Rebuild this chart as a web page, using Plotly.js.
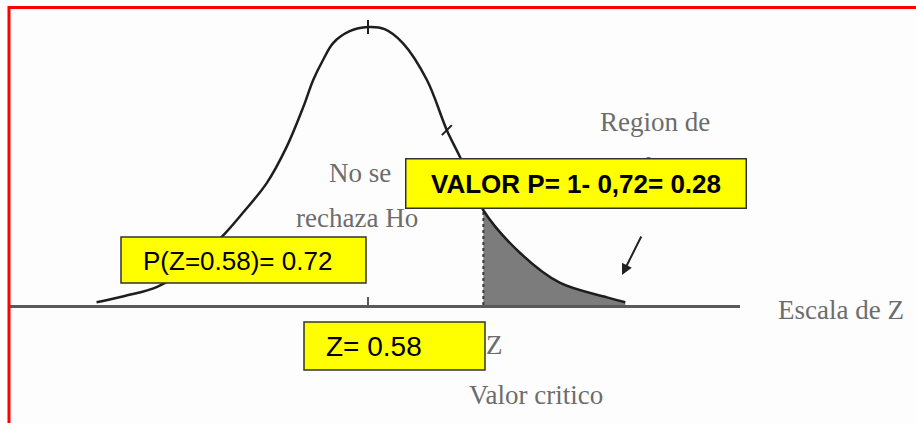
<!DOCTYPE html>
<html>
<head>
<meta charset="utf-8">
<script src="https://cdn.plot.ly/plotly-3.0.1.min.js"></script>
<style>html,body{margin:0;padding:0;background:#fdfdfd;}#chart{width:916px;height:423px;}</style>
</head>
<body>
<div id="chart"></div>
<script>
// ---- data ----
const zValues = [-3.27,-2.93,-2.54,-2.14,-1.76,-1.51,-1.22,-0.98,-0.78,-0.66,-0.54,-0.42,-0.22,0,0.20,0.42,0.71,0.95,1.11,1.39,1.83,2.31,2.88,3.10];
const density = [0.004,0.013,0.026,0.056,0.098,0.132,0.175,0.227,0.284,0.323,0.352,0.376,0.393,0.399,0.396,0.376,0.323,0.251,0.212,0.136,0.075,0.032,0.011,0.004];
const critZ = 1.39;
const tickMarksZ = [0, 0.95];
const labelValorP = "VALOR P= 1- 0,72= 0.28";
const labelProb = "P(Z=0.58)= 0.72";
const labelZ = "Z= 0.58";
const serifLabels = ["No se", "rechaza Ho", "Region de", "rechazo", "Escala de Z", "Z", "Valor critico"];

// ---- helpers ----
const W = 916, H = 423;
const px = x => x / W;
const py = y => 1 - y / H;
const critIdx = zValues.indexOf(critZ);
const tailZ = zValues.slice(critIdx);
const tailD = density.slice(critIdx);
const tickIdx = tickMarksZ.map(z => zValues.indexOf(z));

const traces = [
  { x: tailZ, y: tailD, mode: 'lines', fill: 'tozeroy', fillcolor: '#7c7c7c',
    line: { width: 0, shape: 'spline', smoothing: 1 }, hoverinfo: 'skip' },
  { x: [critZ, critZ], y: [0, density[critIdx]], mode: 'lines',
    line: { color: '#3a3a3a', width: 2, dash: 'dot' }, hoverinfo: 'skip' },
  { x: zValues, y: density, mode: 'lines',
    line: { color: '#1e1e1e', width: 2.5, shape: 'spline', smoothing: 1 }, hoverinfo: 'skip' },
  { x: tickIdx.map(i => zValues[i]), y: tickIdx.map(i => density[i]), mode: 'markers',
    marker: { symbol: ['line-ns', 'line-ne'], size: 10, line: { width: 2, color: '#1e1e1e' } }, hoverinfo: 'skip' }
];

const serif = { family: 'Liberation Serif, Times New Roman, serif', size: 27, color: '#6c6c6c' };
const ann = (text, x, y, xanchor, extra) => Object.assign({
  text, xref: 'paper', yref: 'paper', x: px(x), y: py(y), xanchor, yanchor: 'middle',
  showarrow: false, font: serif
}, extra || {});

const annotations = [
  ann(serifLabels[0], 360, 173, 'center'),
  ann(serifLabels[1], 357, 218, 'center'),
  ann(serifLabels[2], 655, 122, 'center'),
  ann(serifLabels[3], 655, 167, 'center'),
  ann(serifLabels[4], 776, 310, 'left'),
  ann(serifLabels[5], 484, 345, 'left'),
  ann(serifLabels[6], 467, 395, 'left'),
  { text: '<b>' + labelValorP + '</b>', xref: 'paper', yref: 'paper', x: px(405), y: py(158),
    xanchor: 'left', yanchor: 'top', showarrow: false, width: 339, height: 48, align: 'center', valign: 'middle',
    bgcolor: '#ffff00', bordercolor: '#333333', borderwidth: 1.5, borderpad: 0,
    font: { family: 'Liberation Sans, Arial, sans-serif', size: 26, color: '#000' } },
  ann(labelProb, 141, 261, 'left', { font: { family: 'Liberation Sans, Arial, sans-serif', size: 26, color: '#000' } }),
  ann(labelZ, 324, 346, 'left', { font: { family: 'Liberation Sans, Arial, sans-serif', size: 28, color: '#000' } }),
  { text: '', xref: 'x', yref: 'y', x: 3.06, y: 0.043, ax: 20, ay: -40, showarrow: true,
    arrowhead: 2, arrowsize: 1.1, arrowwidth: 2, arrowcolor: '#222' }
];

const shapes = [
  { type: 'rect', xref: 'paper', yref: 'paper', x0: px(121), x1: px(366), y0: py(237), y1: py(283),
    fillcolor: '#ffff00', line: { color: '#333333', width: 1.5 }, layer: 'above' },
  { type: 'rect', xref: 'paper', yref: 'paper', x0: px(304), x1: px(485), y0: py(322), y1: py(370),
    fillcolor: '#ffff00', line: { color: '#333333', width: 1.5 }, layer: 'above' },
  { type: 'rect', xref: 'paper', yref: 'paper', x0: px(9), x1: px(930), y0: py(7.5), y1: py(440),
    fillcolor: 'rgba(0,0,0,0)', line: { color: '#ff0000', width: 3 }, layer: 'above' }
];

const layout = {
  width: W, height: H, margin: { l: 0, r: 0, t: 0, b: 0 },
  paper_bgcolor: '#fdfdfd', plot_bgcolor: 'rgba(0,0,0,0)', showlegend: false,
  xaxis: { domain: [px(10), px(740)], range: [-4.313, 4.482], showline: true, linecolor: '#5a5a5a', linewidth: 3,
    ticks: 'inside', tickvals: [0], ticklen: 8, tickwidth: 2, tickcolor: '#5a5a5a', showticklabels: false,
    showgrid: false, zeroline: false, fixedrange: true },
  yaxis: { domain: [118 / H, 1], range: [0, 0.4378], visible: false, fixedrange: true },
  annotations, shapes
};

Plotly.newPlot('chart', traces, layout, { staticPlot: true, displayModeBar: false });
</script>
</body>
</html>
